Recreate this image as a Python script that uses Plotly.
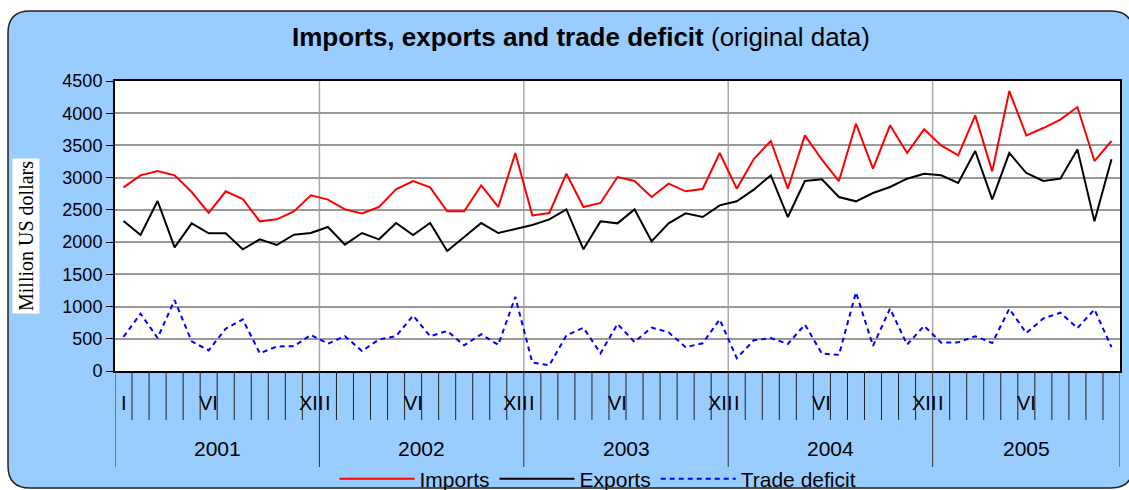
import plotly.graph_objects as go

years = ["2001", "2002", "2003", "2004", "2005"]
months_per_year = [12, 12, 12, 12, 11]
month_labels = {1: "I", 6: "VI", 12: "XII"}

imports = [2850, 3036, 3103, 3036, 2777, 2452, 2788, 2669, 2322, 2353, 2477, 2726,
           2660, 2508, 2446, 2545, 2819, 2948, 2850, 2477, 2477, 2881, 2545, 3382,
           2415, 2452, 3062, 2545, 2607, 3010, 2948, 2700, 2907, 2788, 2824, 3382,
           2829, 3289, 3569, 2829, 3657, 3279, 2948, 3838, 3139, 3812, 3382, 3750,
           3501, 3346, 3967, 3098, 4344, 3657, 3770, 3900, 4096, 3258, 3569]
exports = [2327, 2110, 2638, 1919, 2291, 2136, 2136, 1888, 2043, 1955, 2115, 2141,
           2234, 1960, 2141, 2043, 2296, 2110, 2296, 1862, 2079, 2296, 2141, 2208,
           2265, 2353, 2508, 1888, 2322, 2291, 2508, 2012, 2291, 2446, 2389, 2570,
           2633, 2814, 3036, 2389, 2948, 2974, 2700, 2633, 2762, 2855, 2984, 3062,
           3036, 2917, 3414, 2664, 3382, 3072, 2948, 2984, 3439, 2322, 3284]
deficit = [530, 890, 512, 1100, 460, 320, 657, 800, 275, 380, 385, 560,
           424, 540, 310, 490, 540, 860, 540, 620, 398, 570, 405, 1150,
           130, 90, 553, 670, 275, 730, 450, 675, 600, 370, 430, 800,
           200, 476, 510, 420, 720, 270, 250, 1220, 390, 967, 410, 700,
           440, 445, 540, 434, 965, 590, 815, 905, 665, 955, 370]

# categorical positions
month_num = []
year_of = []
for y, n in zip(years, months_per_year):
    for m in range(1, n + 1):
        month_num.append(m)
        year_of.append(y)
x = list(range(len(month_num)))

W, H = 1129, 490
ML, MR, MT, MB = 115, 9, 81, 119
PW, PH = W - ML - MR, H - MT - MB


def px(X):
    return (X - ML) / PW


def py(Y):
    return (H - MB - Y) / PH


fig = go.Figure()
fig.add_trace(go.Scatter(x=x, y=imports, mode="lines", name="Imports",
                         line=dict(color="#FF0000", width=2)))
fig.add_trace(go.Scatter(x=x, y=exports, mode="lines", name="Exports",
                         line=dict(color="#000000", width=2)))
fig.add_trace(go.Scatter(x=x, y=deficit, mode="lines", name="Trade deficit",
                         line=dict(color="#0000FF", width=2, dash="5px,4px")))

shapes = []
# outer rounded background box
x0, x1, y0, y1, r = 8, 1133, 11, 488, 22
path = (f"M {px(x0 + r)},{py(y0)} L {px(x1 - r)},{py(y0)} Q {px(x1)},{py(y0)} {px(x1)},{py(y0 + r)} "
        f"L {px(x1)},{py(y1 - r)} Q {px(x1)},{py(y1)} {px(x1 - r)},{py(y1)} "
        f"L {px(x0 + r)},{py(y1)} Q {px(x0)},{py(y1)} {px(x0)},{py(y1 - r)} "
        f"L {px(x0)},{py(y0 + r)} Q {px(x0)},{py(y0)} {px(x0 + r)},{py(y0)} Z")
shapes.append(dict(type="path", path=path, xref="paper", yref="paper",
                   fillcolor="#99CCFF", line=dict(color="#222222", width=1.5), layer="below"))
# white plot area
shapes.append(dict(type="rect", xref="paper", yref="paper", x0=0, x1=1, y0=0, y1=1,
                   fillcolor="white", line=dict(width=0), layer="below"))

# month tick marks & year separators
n = len(x)
boundaries = []
acc = 0
for cnt in months_per_year:
    boundaries.append(acc)
    acc += cnt
boundaries.append(acc)
for k in range(n + 1):
    is_year = k in boundaries
    shapes.append(dict(type="line", xref="x", yref="paper", x0=k - 0.5, x1=k - 0.5,
                       y0=0, y1=py(467) if is_year else py(420),
                       line=dict(color="#333333" if is_year else "#222222", width=1)))
# vertical gray gridlines at year boundaries inside plot
for b in boundaries[1:-1]:
    shapes.append(dict(type="line", xref="x", yref="paper", x0=b - 0.5, x1=b - 0.5,
                       y0=0, y1=1, line=dict(color="#AAAAAA", width=1.5), layer="below"))

annotations = []
for i, m in enumerate(month_num):
    if m in month_labels:
        annotations.append(dict(x=i, y=py(403), xref="x", yref="paper", text=month_labels[m],
                                showarrow=False, font=dict(size=20, color="black"),
                                xanchor="center", yanchor="middle"))
start = 0
for yname, cnt in zip(years, months_per_year):
    annotations.append(dict(x=start + (cnt - 1) / 2, y=py(449), xref="x", yref="paper", text=yname,
                            showarrow=False, font=dict(size=21, color="black"),
                            xanchor="center", yanchor="middle"))
    start += cnt
# title
annotations.append(dict(x=px(581), y=py(37), xref="paper", yref="paper",
                        text="<b>Imports, exports and trade deficit</b> (original data)",
                        showarrow=False, font=dict(size=26, color="black"),
                        xanchor="center", yanchor="middle"))
# y-axis title
annotations.append(dict(x=px(26), y=py(236), xref="paper", yref="paper",
                        text="Million US dollars", textangle=-90, showarrow=False,
                        bgcolor="white", borderpad=2,
                        font=dict(size=20, color="black", family="Liberation Serif"),
                        xanchor="center", yanchor="middle"))

fig.update_layout(
    width=W, height=H,
    margin=dict(l=ML, r=MR, t=MT, b=MB, pad=0, autoexpand=False),
    paper_bgcolor="white", plot_bgcolor="rgba(0,0,0,0)",
    font=dict(family="Liberation Sans, Arial", color="black"),
    shapes=shapes, annotations=annotations,
    showlegend=True,
    legend=dict(orientation="h", xref="container", yref="container",
                x=598 / W, y=(H - 479) / H, xanchor="center", yanchor="middle",
                bgcolor="rgba(0,0,0,0)", font=dict(size=21), itemwidth=75,
                tracegroupgap=0),
    xaxis=dict(range=[-0.5, n - 0.5], showticklabels=False, showgrid=False, zeroline=False,
               showline=True, linecolor="black", linewidth=2, mirror=True, ticks=""),
    yaxis=dict(range=[0, 4500], dtick=500, showgrid=True, gridcolor="#999999", gridwidth=1.5,
               zeroline=False, showline=True, linecolor="black", linewidth=2, mirror=True,
               ticks="outside", ticklen=7, tickcolor="black", tickfont=dict(size=18)),
)

fig.write_html("out.html", config={"displayModeBar": False},
               post_script="document.body.style.margin='0';")
